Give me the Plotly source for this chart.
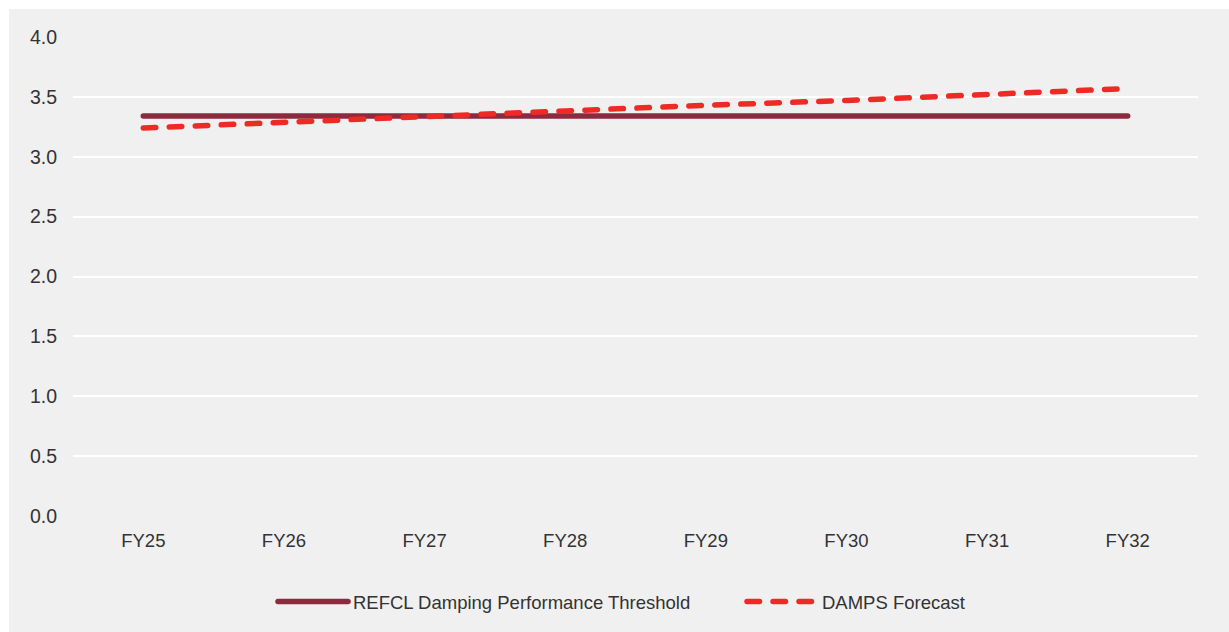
import plotly.graph_objects as go

# Financial years on the category axis
years = ["FY25", "FY26", "FY27", "FY28", "FY29", "FY30", "FY31", "FY32"]

# REFCL damping performance threshold (flat) and the DAMPS forecast
threshold = [3.34, 3.34, 3.34, 3.34, 3.34, 3.34, 3.34, 3.34]
damps_forecast = [3.24, 3.29, 3.33, 3.38, 3.43, 3.47, 3.52, 3.57]

y_ticks = [0.0, 0.5, 1.0, 1.5, 2.0, 2.5, 3.0, 3.5, 4.0]

FONT = "Liberation Sans, Arial, sans-serif"
TEXT = "#333333"
PANEL = "#f0f0f0"

fig = go.Figure()
fig.add_trace(go.Scatter(
    x=years, y=threshold, mode="lines",
    name="REFCL Damping Performance Threshold",
    line=dict(color="#8c2a3f", width=5.5),
))
fig.add_trace(go.Scatter(
    x=years, y=damps_forecast, mode="lines",
    name="DAMPS Forecast",
    line=dict(color="#ee2a24", width=5.5, dash="12.5px,13.5px"),
))

# Plot area geometry in pixels
W, H = 1229, 632
L, R, T, B = 73, 31, 37, 116
pw, ph = W - L - R, H - T - B

# Grey chart panel inset from the top-left of the page
fig.add_shape(
    type="rect", xref="paper", yref="paper", layer="below",
    x0=(9 - L) / pw, x1=(W - L) / pw,
    y0=(H - B - H) / ph, y1=(H - B - 9) / ph,
    fillcolor=PANEL, line=dict(width=0),
)

fig.update_layout(
    width=W, height=H,
    margin=dict(l=L, r=R, t=T, b=B, autoexpand=False),
    paper_bgcolor="white",
    plot_bgcolor=PANEL,
    font=dict(family=FONT, size=18.5, color=TEXT),
    showlegend=True,
    legend=dict(
        orientation="h", x=(742 - L) / pw, xanchor="center",
        y=(H - B - 602) / ph, yanchor="middle",
        bgcolor="rgba(0,0,0,0)", font=dict(size=18.5, color=TEXT),
        itemwidth=70, entrywidth=384, entrywidthmode="pixels",
        traceorder="normal",
    ),
    xaxis=dict(
        type="category", range=[-0.5, 7.5],
        showgrid=False, zeroline=False, showline=False,
        ticks="", ticklabelstandoff=11,
    ),
    yaxis=dict(
        range=[0, 4], tickvals=y_ticks,
        ticktext=[f"{v:.1f}" for v in y_ticks],
        showgrid=True, gridcolor="white", gridwidth=1.5,
        zeroline=False, showline=False, ticks="", ticklabelstandoff=15,
        tickfont=dict(size=19.5),
    ),
)

# Rounded line ends on the series and legend swatches
round_caps = """
var st = document.createElement('style');
st.textContent = '.scatterlayer .js-line, .legendlines path { stroke-linecap: round; }';
document.head.appendChild(st);
"""
fig.write_html("out.html", post_script=round_caps)
